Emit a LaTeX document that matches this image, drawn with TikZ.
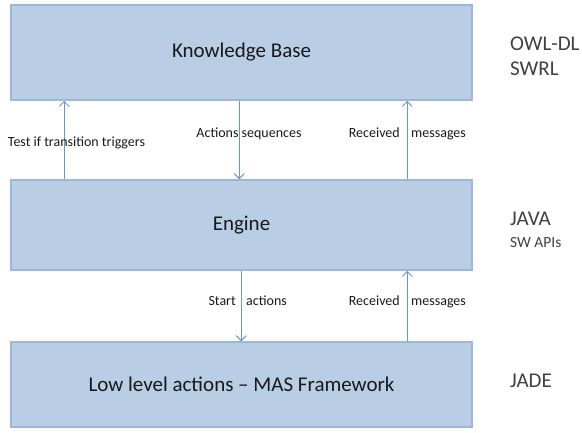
\documentclass[tikz,border=0pt]{standalone}
\usepackage{fontspec}
\setmainfont{Carlito}
\usetikzlibrary{arrows.meta}
\definecolor{boxfill}{HTML}{B9CDE5}
\definecolor{boxline}{HTML}{9BB7DA}
\definecolor{arrowblue}{HTML}{6A93C9}
\definecolor{sidegray}{HTML}{404040}
\tikzset{
	layer/.style = {draw = boxline, line width = 1.5pt, fill = boxfill, minimum width = 461pt, text = black!90, font = \fontsize{21}{25}\selectfont},
	flow/.style = {draw = arrowblue, line width = .9pt, -{Straight Barb[length = 5pt, width = 10pt]}},
	flowtext/.style = {font = \fontsize{14}{16}\selectfont, text = black!90, inner sep = 0pt, anchor = base},
	side/.style = {font = \fontsize{21}{25}\selectfont, text = sidegray, anchor = base west, inner sep = 0pt},
	sidesmall/.style = {font = \fontsize{15.5}{18}\selectfont, text = sidegray, anchor = base west, inner sep = 0pt}
}

\begin{document}
\begin{tikzpicture}[x = 1pt, y = -1pt]
		\useasboundingbox (0, 0) rectangle (582, 432);
		% the three layers
		\node [layer, minimum height = 95pt] (kb) at (241.5, 52.5) {Knowledge Base};
		\node [layer, minimum height = 90pt] (engine) at (241.5, 225) {Engine};
		\node [layer, minimum height = 85pt] (low) at (241.5, 384.5) {Low level actions -- MAS Framework};
		% connectors
		\draw [flow] ([xshift = 54pt]engine.north west) -- ([xshift = 54pt]kb.south west) coordinate (test);
		\draw [flow] ([xshift = 229pt]kb.south west) -- ([xshift = 229pt]engine.north west);
		\draw [flow] ([xshift = 397pt]engine.north west) -- ([xshift = 397pt]kb.south west);
		\draw [flow] ([xshift = 231pt]engine.south west) -- ([xshift = 231pt]low.north west);
		\draw [flow] ([xshift = 397pt]low.north west) -- ([xshift = 397pt]engine.south west);
		% labels on the connectors
		\node [flowtext] (testlbl) at (76.5, 146.7) {Test if transition triggers};
		\node [flowtext] (actlbl) at (249, 137) {Actions sequences};
		\node [flowtext, anchor = base east] (recv1) at (400, 137) {Received};
		\node [flowtext, anchor = base west] (msg1) at (411, 137) {messages};
		\node [flowtext, anchor = base east] (start) at (236, 305.5) {Start};
		\node [flowtext, anchor = base west] (actions) at (246, 305.5) {actions};
		\node [flowtext, anchor = base east] (recv2) at (400, 305.5) {Received};
		\node [flowtext, anchor = base west] (msg2) at (411, 305.5) {messages};
		% technologies
		\node [side] (owl) at (510, 50) {OWL-DL};
		\node [side] (swrl) at (510, 75) {SWRL};
		\node [side] (java) at (510, 225) {JAVA};
		\node [sidesmall] (swapi) at (510, 247) {SW APIs};
		\node [side] (jade) at (510, 387) {JADE};
	\end{tikzpicture}
\end{document}
